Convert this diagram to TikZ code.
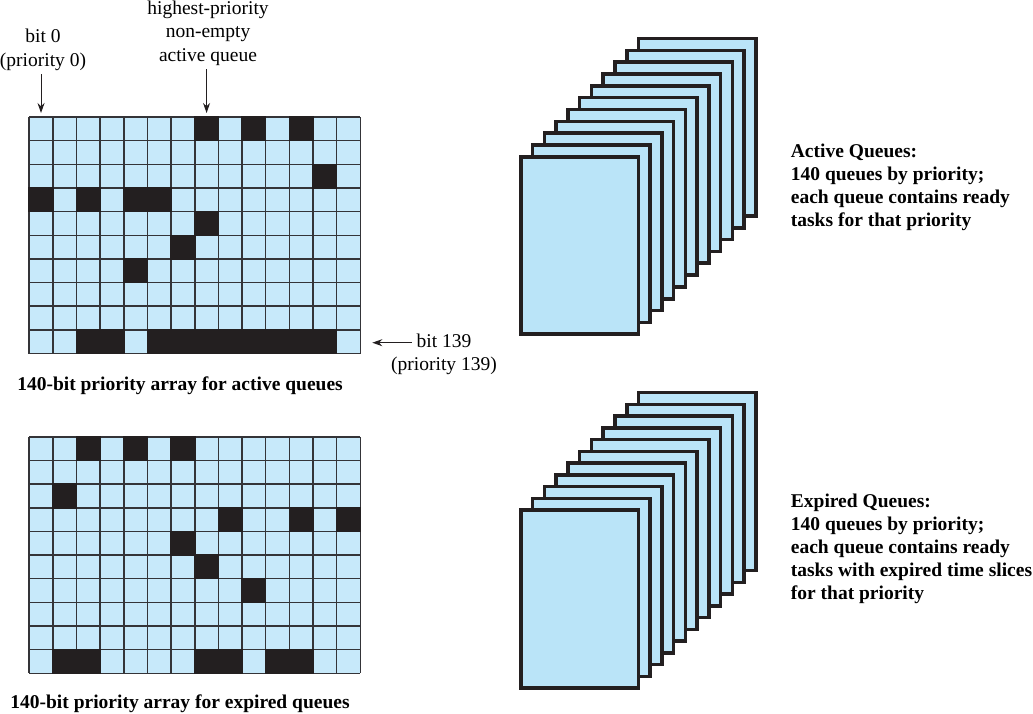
\documentclass[tikz,border=0pt]{standalone}
\usepackage{fontspec}
\setmainfont{Liberation Serif}
\usetikzlibrary{arrows.meta}
\definecolor{cellblue}{RGB}{199,233,250}
\definecolor{qblue}{RGB}{186,228,248}
\definecolor{ink}{RGB}{35,31,32}
\definecolor{gridgray}{RGB}{52,52,56}
\begin{document}
\begin{tikzpicture}[x=1pt,y=-1pt,
  lbl/.style={inner sep=0pt, align=center, font=\fontsize{19.5}{23.3}\selectfont},
  desc/.style={inner sep=0pt, align=left, font=\fontsize{19.5}{23}\selectfont\bfseries},
  captxt/.style={inner sep=0pt, font=\fontsize{19.5}{23}\selectfont\bfseries},
  ptr/.style={line width=1pt, ink, -{Stealth[length=10pt,width=7pt]}},
  gridline/.style={gridgray, line width=1.5pt},
  qcard/.style={fill=qblue, draw=ink, line width=3.6pt},
]
\useasboundingbox (0,0) rectangle (1033,713);
\def\cs{23.65}
% ---------- top priority array ----------
\def\gx{29.2}\def\gy{117}
\fill[cellblue] (\gx,\gy) rectangle ++(14*\cs,10*\cs);
\foreach \i in {0,...,14} \draw[gridline] (\gx+\i*\cs,\gy) -- ++(0,10*\cs);
\foreach \j in {0,...,10} \draw[gridline] (\gx,\gy+\j*\cs) -- ++(14*\cs,0);
\foreach \r/\c in {0/7,0/9,0/11,2/12,3/0,3/2,3/4,3/5,4/7,5/6,6/4,
  9/2,9/3,9/5,9/6,9/7,9/8,9/9,9/10,9/11,9/12}
  \fill[ink] (\gx+\c*\cs-0.75,\gy+\r*\cs-0.75) rectangle ++(\cs+1.5,\cs+1.5);
\coordinate (bit0tip) at (\gx+0.5*\cs,\gy-4);
\coordinate (hptip) at (\gx+7.5*\cs,\gy-4);
\coordinate (bit139tip) at (\gx+14*\cs+12,342.7);
% ---------- bottom priority array ----------
\def\hx{29.2}\def\hy{436.8}
\fill[cellblue] (\hx,\hy) rectangle ++(14*\cs,10*\cs);
\foreach \i in {0,...,14} \draw[gridline] (\hx+\i*\cs,\hy) -- ++(0,10*\cs);
\foreach \j in {0,...,10} \draw[gridline] (\hx,\hy+\j*\cs) -- ++(14*\cs,0);
\foreach \r/\c in {0/2,0/4,0/6,2/1,3/8,3/11,3/13,4/6,5/7,6/9,
  9/1,9/2,9/7,9/8,9/10,9/11}
  \fill[ink] (\hx+\c*\cs-0.75,\hy+\r*\cs-0.75) rectangle ++(\cs+1.5,\cs+1.5);
% ---------- labels and arrows ----------
\node[lbl, anchor=north] (bit0) at (43,29) {bit 0\\(priority 0)};
\node[lbl, anchor=north] (hp) at (208,0.8) {highest-priority\\non-empty\\active queue};
\node[lbl, anchor=north] (bit139) at (444,333.3) {bit 139\\(priority 139)};
\coordinate (bit139tail) at (411.5,342.7);
\draw[ptr] (bit0.south -| bit0tip) ++(0,4) -- (bit0tip);
\draw[ptr] (hp.south -| hptip) ++(0,4) -- (hptip);
\draw[ptr] (bit139tail) -- (bit139tip);
\node[captxt, anchor=base] (capA) at (180,390) {140-bit priority array for active queues};
\node[captxt, anchor=base] (capE) at (180,708) {140-bit priority array for expired queues};
% ---------- queue stacks ----------
\foreach \k in {10,...,0}
  \draw[qcard] (520.8+\k*11.77,156.8-\k*11.83) rectangle ++(117.5,177.4);
\foreach \k in {10,...,0}
  \draw[qcard] (520.8+\k*11.77,510.1-\k*11.75) rectangle ++(117.5,178);
\node[desc, anchor=north west] (actq) at (790.7,144) {Active Queues:\\140 queues by priority;\\each queue contains ready\\tasks for that priority};
\node[desc, anchor=north west] (expq) at (790.7,494) {Expired Queues:\\140 queues by priority;\\each queue contains ready\\tasks with expired time slices\\for that priority};
\end{tikzpicture}
\end{document}
